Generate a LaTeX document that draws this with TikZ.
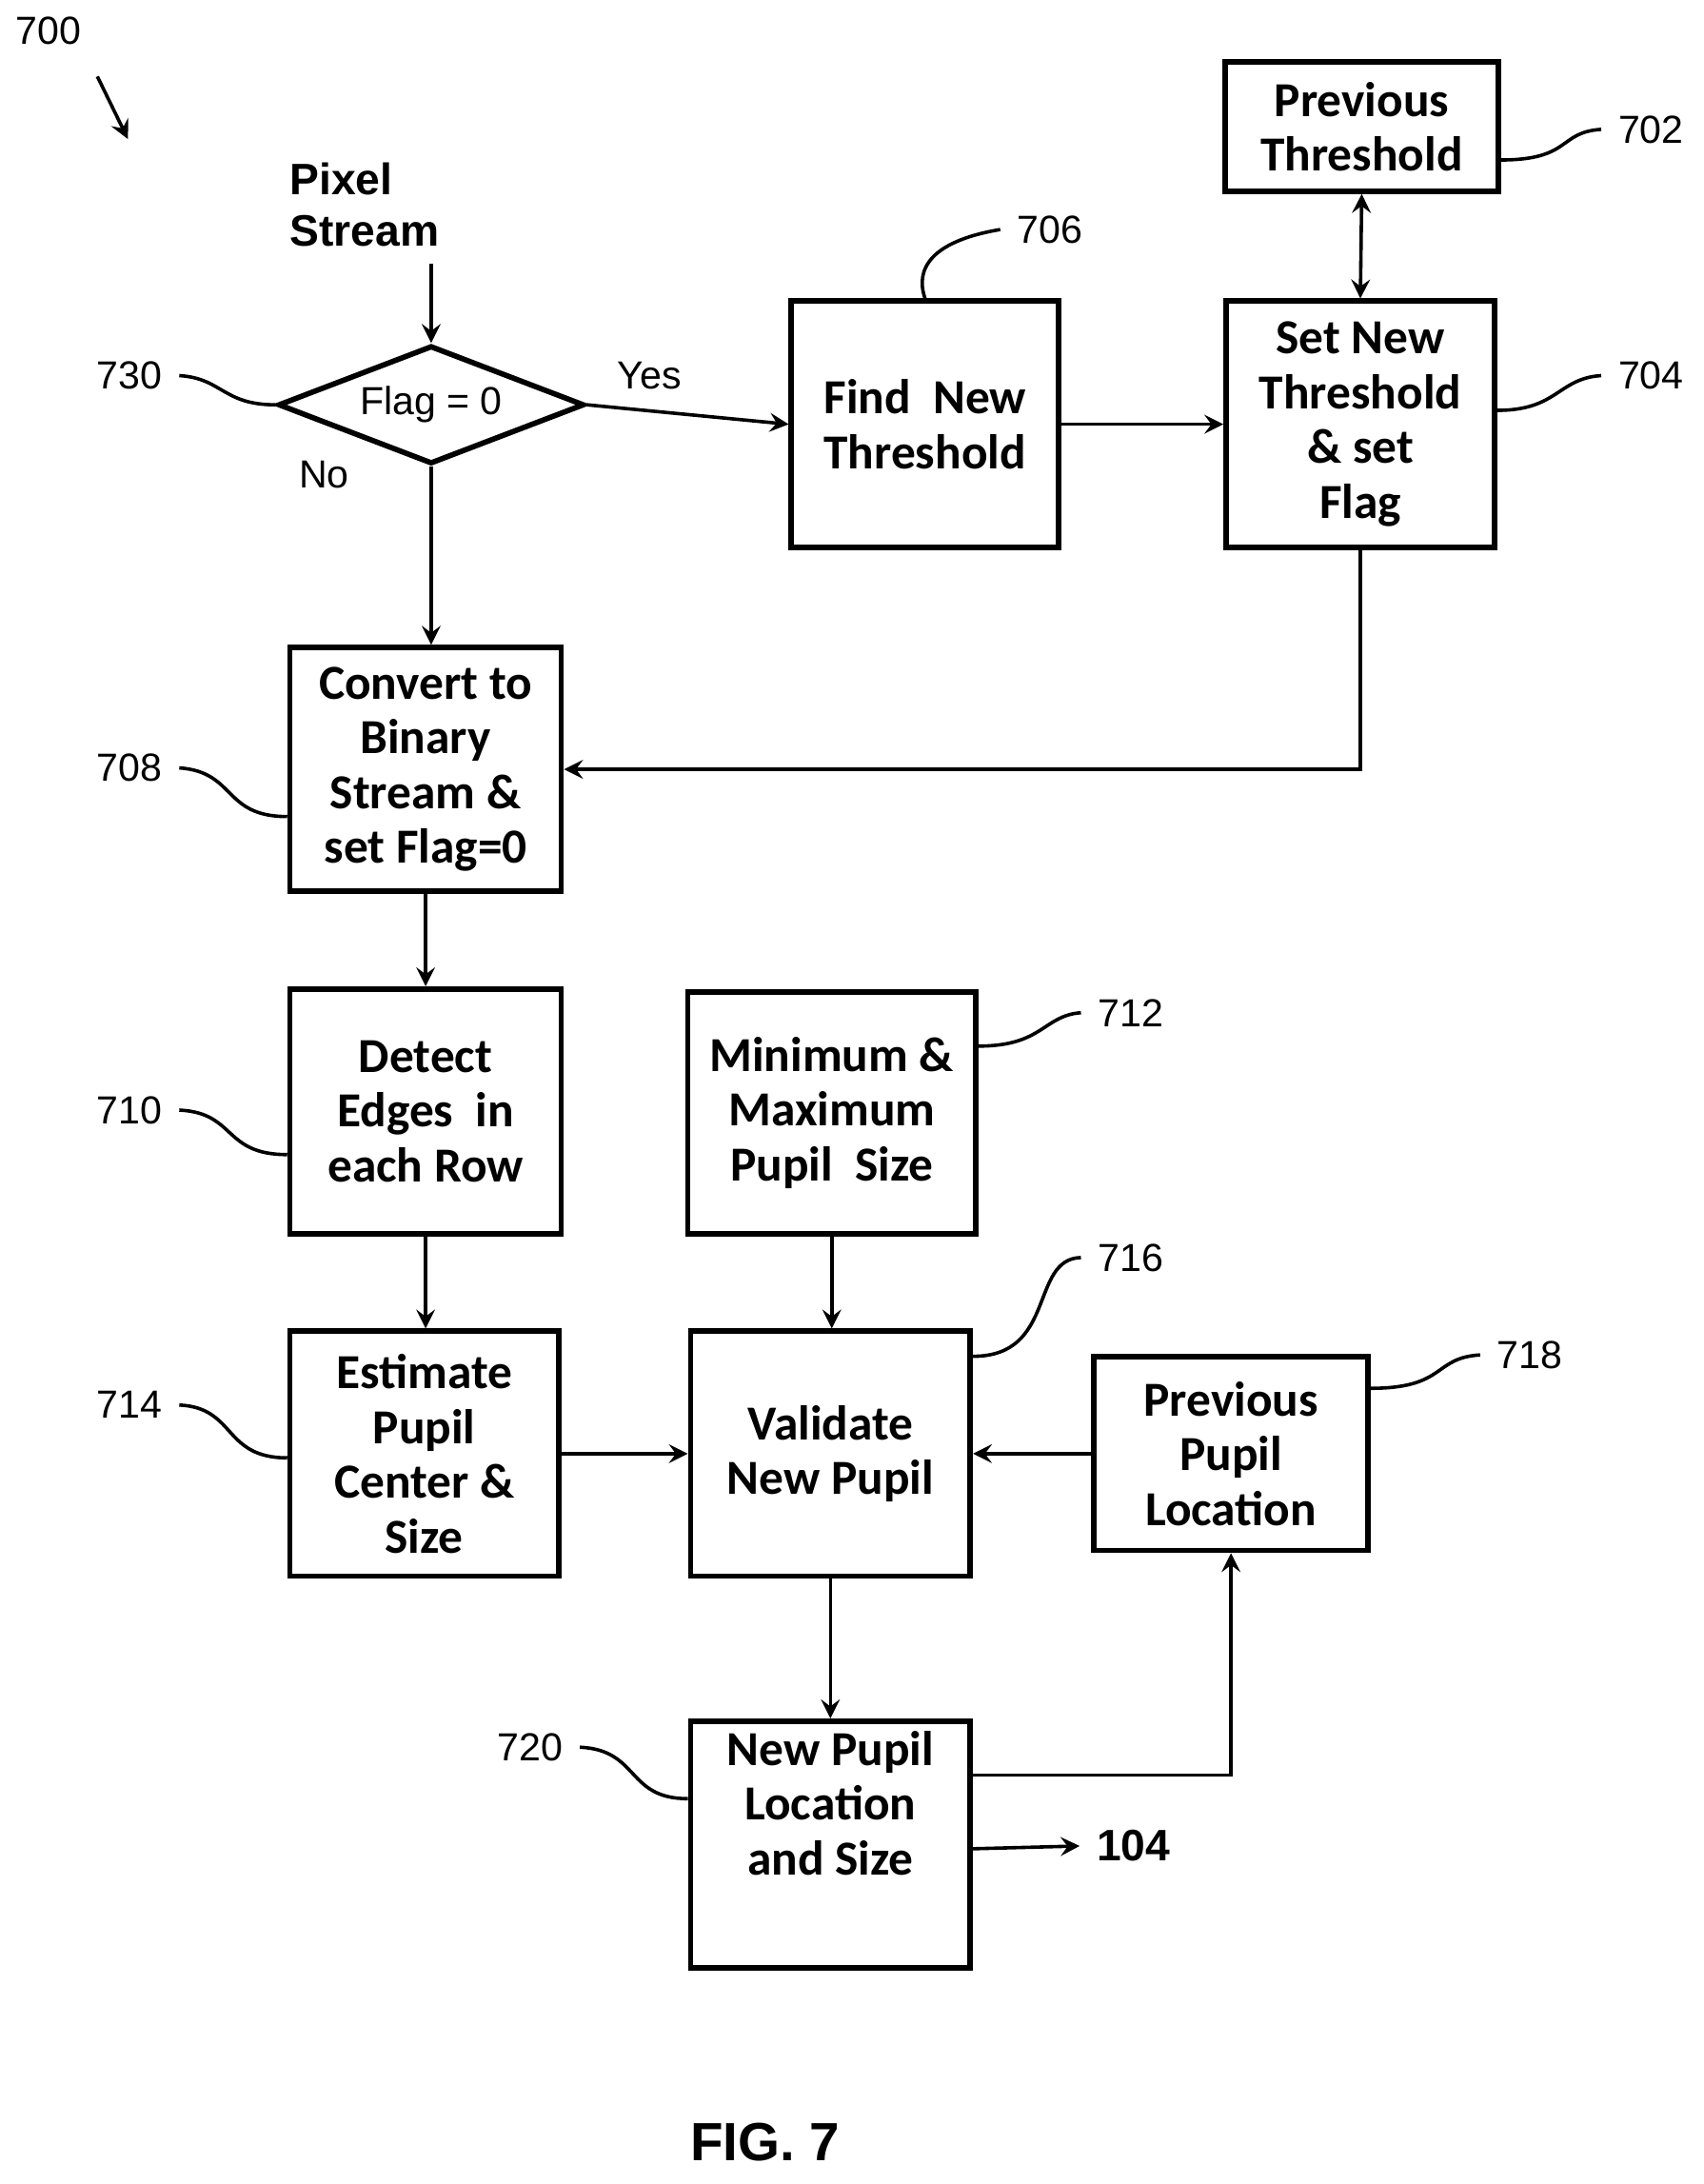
\documentclass[tikz,border=0pt]{standalone}
\usepackage{fontspec}
\setmainfont{Carlito}
\newfontfamily\arialfont{Liberation Sans}
\usetikzlibrary{positioning,shapes.geometric}
\begin{document}
\begin{tikzpicture}[x=0.01cm,y=-0.01cm,
    box/.style={draw, line width=1.1pt, align=center, font=\fontsize{10}{11.2}\selectfont\bfseries, inner sep=2pt},
    >=stealth, arrow/.style={->, line width=0.7pt},
    num/.style={font=\arialfont\fontsize{8}{9}\selectfont},
    lead/.style={line width=0.7pt}
  ]
  \useasboundingbox (0,0) rectangle (1225,1570);
  % boxes
  \node[box, minimum width=196\pgflinewidth, minimum width=1.96cm, minimum height=0.93cm] (prevthr) at (979,91) {Previous\\Threshold};
  \node[box, minimum width=1.93cm, minimum height=1.77cm] (setthr) at (978,305) {Set New\\Threshold\\\& set\\Flag};
  \node[box, minimum width=1.92cm, minimum height=1.77cm] (findthr) at (665,305) {Find~ New\\Threshold};
  \node[draw, diamond, aspect=2.6, line width=1.1pt, minimum width=2.2cm, minimum height=0.85cm, inner sep=0pt, font=\arialfont\fontsize{8}{9}\selectfont] (flag) at (310,291) {Flag = 0};
  \node[box, minimum width=1.95cm, minimum height=1.75cm] (convert) at (306,553) {Convert to\\Binary\\Stream \&\\set Flag=0};
  \node[box, minimum width=1.95cm, minimum height=1.76cm] (detect) at (306,799) {Detect\\Edges~ in\\each Row};
  \node[box, minimum width=2.07cm, minimum height=1.74cm] (minmax) at (598,800) {Minimum \&\\Maximum\\Pupil~ Size};
  \node[box, minimum width=1.93cm, minimum height=1.76cm] (estimate) at (305,1045) {Estimate\\Pupil\\Center \&\\Size};
  \node[box, minimum width=2.01cm, minimum height=1.76cm] (validate) at (597,1045) {Validate\\New Pupil};
  \node[box, minimum width=1.97cm, minimum height=1.39cm] (prevloc) at (885,1045) {Previous\\Pupil\\Location};
  \node[box, minimum width=2.01cm, minimum height=1.77cm, text depth=0.6cm] (newloc) at (597,1326) {New Pupil\\Location\\and Size};
  % free texts
  \node[font=\arialfont\fontsize{9}{10.5}\selectfont\bfseries, align=left] (pixel) at (262,147) {Pixel\\Stream};
  \node[num] (yes) at (467,270) {Yes};
  \node[num] (no) at (233,341) {No};
  \node[font=\arialfont\fontsize{9}{10}\selectfont\bfseries] (out) at (815,1327) {104};
  \node[font=\arialfont\fontsize{11}{12}\selectfont\bfseries] (fig) at (550,1540) {FIG. 7};
  \node[num] (n700) at (35,22) {700};
  \coordinate (a700) at (70,55);
  \coordinate (b700) at (92,100);
  % connectors
  \draw[arrow] (a700) -- (b700);
  \draw[arrow] (pixel.south -| flag.north) ++(0,0) coordinate (ps) -- (flag.north);
  \draw[arrow] (flag.east) -- (findthr.west);
  \draw[arrow] (findthr.east) -- (setthr.west);
  \draw[<->, line width=0.7pt] (prevthr.south) -- (setthr.north);
  \draw[arrow] (flag.south) -- (convert.north -| flag.south);
  \draw[arrow] (setthr.south) |- (convert.east);
  \draw[arrow] (convert.south) -- (detect.north);
  \draw[arrow] (detect.south) -- (estimate.north -| detect.south);
  \draw[arrow] (minmax.south) -- (validate.north -| minmax.south);
  \draw[arrow] (estimate.east) -- (validate.west);
  \draw[arrow] (prevloc.west) -- (validate.east);
  \draw[arrow] (validate.south) -- (newloc.north);
  \draw[arrow] (newloc.east |- 0,1276) -| (prevloc.south);
  \draw[arrow] (newloc.east |- 0,1329) -- (out.west);
  % reference numerals
  \node[num] (n702) at (1187,93) {702};
  \node[num] (n706) at (755,165) {706};
  \node[num] (n704) at (1187,270) {704};
  \node[num] (n730) at (93,270) {730};
  \node[num] (n708) at (93,552) {708};
  \node[num] (n710) at (93,798) {710};
  \node[num] (n712) at (813,728) {712};
  \node[num] (n716) at (813,904) {716};
  \node[num] (n714) at (93,1010) {714};
  \node[num] (n718) at (1100,974) {718};
  \node[num] (n720) at (381,1256) {720};
  \draw[lead] (n702.west) .. controls (1120,95) and (1130,115) .. (prevthr.east |- 0,115);
  \draw[lead] (n706.west) .. controls (660,175) and (660,200) .. (findthr.north);
  \draw[lead] (n704.west) .. controls (1120,272) and (1120,295) .. (setthr.east |- 0,295);
  \draw[lead] (n730.east) .. controls (160,272) and (160,291) .. (flag.west);
  \draw[lead] (n708.east) .. controls (170,555) and (160,587) .. (convert.west |- 0,587);
  \draw[lead] (n710.east) .. controls (170,800) and (160,830) .. (detect.west |- 0,830);
  \draw[lead] (n712.west) .. controls (750,730) and (750,752) .. (minmax.east |- 0,752);
  \draw[lead] (n716.west) .. controls (740,905) and (760,975) .. (validate.east |- 0,975);
  \draw[lead] (n714.east) .. controls (170,1012) and (160,1048) .. (estimate.west |- 0,1048);
  \draw[lead] (n718.west) .. controls (1030,976) and (1040,998) .. (prevloc.east |- 0,998);
  \draw[lead] (n720.east) .. controls (460,1258) and (450,1293) .. (newloc.west |- 0,1293);
\end{tikzpicture}
\end{document}
